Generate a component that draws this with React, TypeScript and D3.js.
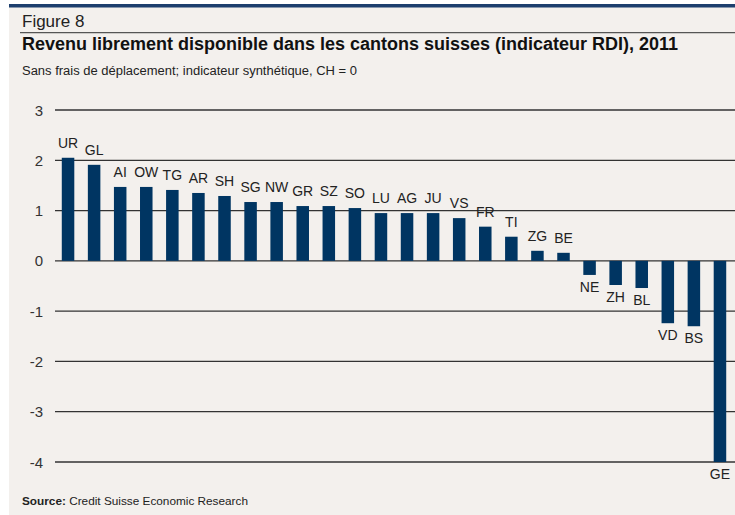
import React from "react";
import * as d3 from "d3";

const cantons = ["UR","GL","AI","OW","TG","AR","SH","SG","NW","GR","SZ","SO","LU","AG","JU","VS","FR","TI","ZG","BE","NE","ZH","BL","VD","BS","GE"];
const rdiValues = [2.05,1.91,1.47,1.47,1.41,1.35,1.29,1.17,1.17,1.09,1.09,1.05,0.95,0.95,0.95,0.85,0.68,0.48,0.2,0.16,-0.28,-0.48,-0.54,-1.24,-1.3,-4.0];
const yTicks = [3,2,1,0,-1,-2,-3,-4];

const W = 735, H = 515;
const FONT = "Liberation Sans, Arial, sans-serif";

export default function App() {
  const x = d3.scaleBand<string>().domain(cantons).range([55, 733]).paddingInner(0.52).paddingOuter(0.26);
  const y = d3.scaleLinear().domain([-4, 3]).range([462, 110]);
  const bw = x.bandwidth();
  return (
    <svg width={W} height={H} style={{ position: "absolute", left: 0, top: 0, display: "block" }} fontFamily={FONT}>
      <rect x={0} y={0} width={W} height={H} fill="#ffffff" />
      <rect x={9} y={7} width={W - 9} height={H - 7} fill="#f3f0ed" />
      <rect x={9} y={4} width={W - 9} height={3.5} fill="#1d3f6e" />
      <text x={22} y={27} fontSize={17} fill="#222">Figure 8</text>
      <line x1={20} x2={W} y1={32.7} y2={32.7} stroke="#555" strokeWidth={1.2} />
      <text x={22} y={49.5} fontSize={17.6} fontWeight="bold" fill="#111" textLength={656} lengthAdjust="spacingAndGlyphs">Revenu librement disponible dans les cantons suisses (indicateur RDI), 2011</text>
      <text x={22} y={75} fontSize={12.5} fill="#222" textLength={335} lengthAdjust="spacingAndGlyphs">Sans frais de déplacement; indicateur synthétique, CH = 0</text>
      {yTicks.map(t => (
        <g key={t}>
          <line x1={55} x2={W} y1={y(t)} y2={y(t)} stroke="#333" strokeWidth={1.3} />
          <text x={43} y={y(t) + 5.5} fontSize={15} textAnchor="end" fill="#333">{t}</text>
        </g>
      ))}
      {cantons.map((c, i) => {
        const v = rdiValues[i];
        const x0 = x(c)!;
        const top = y(Math.max(0, v));
        const bot = y(Math.min(0, v));
        return (
          <g key={c}>
            <rect x={x0} y={top} width={bw} height={bot - top} fill="#003562" />
            <text x={x0 + bw / 2} y={v >= 0 ? top - 10 : bot + 17} fontSize={14} textAnchor="middle" fill="#222">{c}</text>
          </g>
        );
      })}
      <text x={22} y={505} fontSize={11} fill="#222" textLength={226} lengthAdjust="spacingAndGlyphs"><tspan fontWeight="bold">Source:</tspan> Credit Suisse Economic Research</text>
    </svg>
  );
}
